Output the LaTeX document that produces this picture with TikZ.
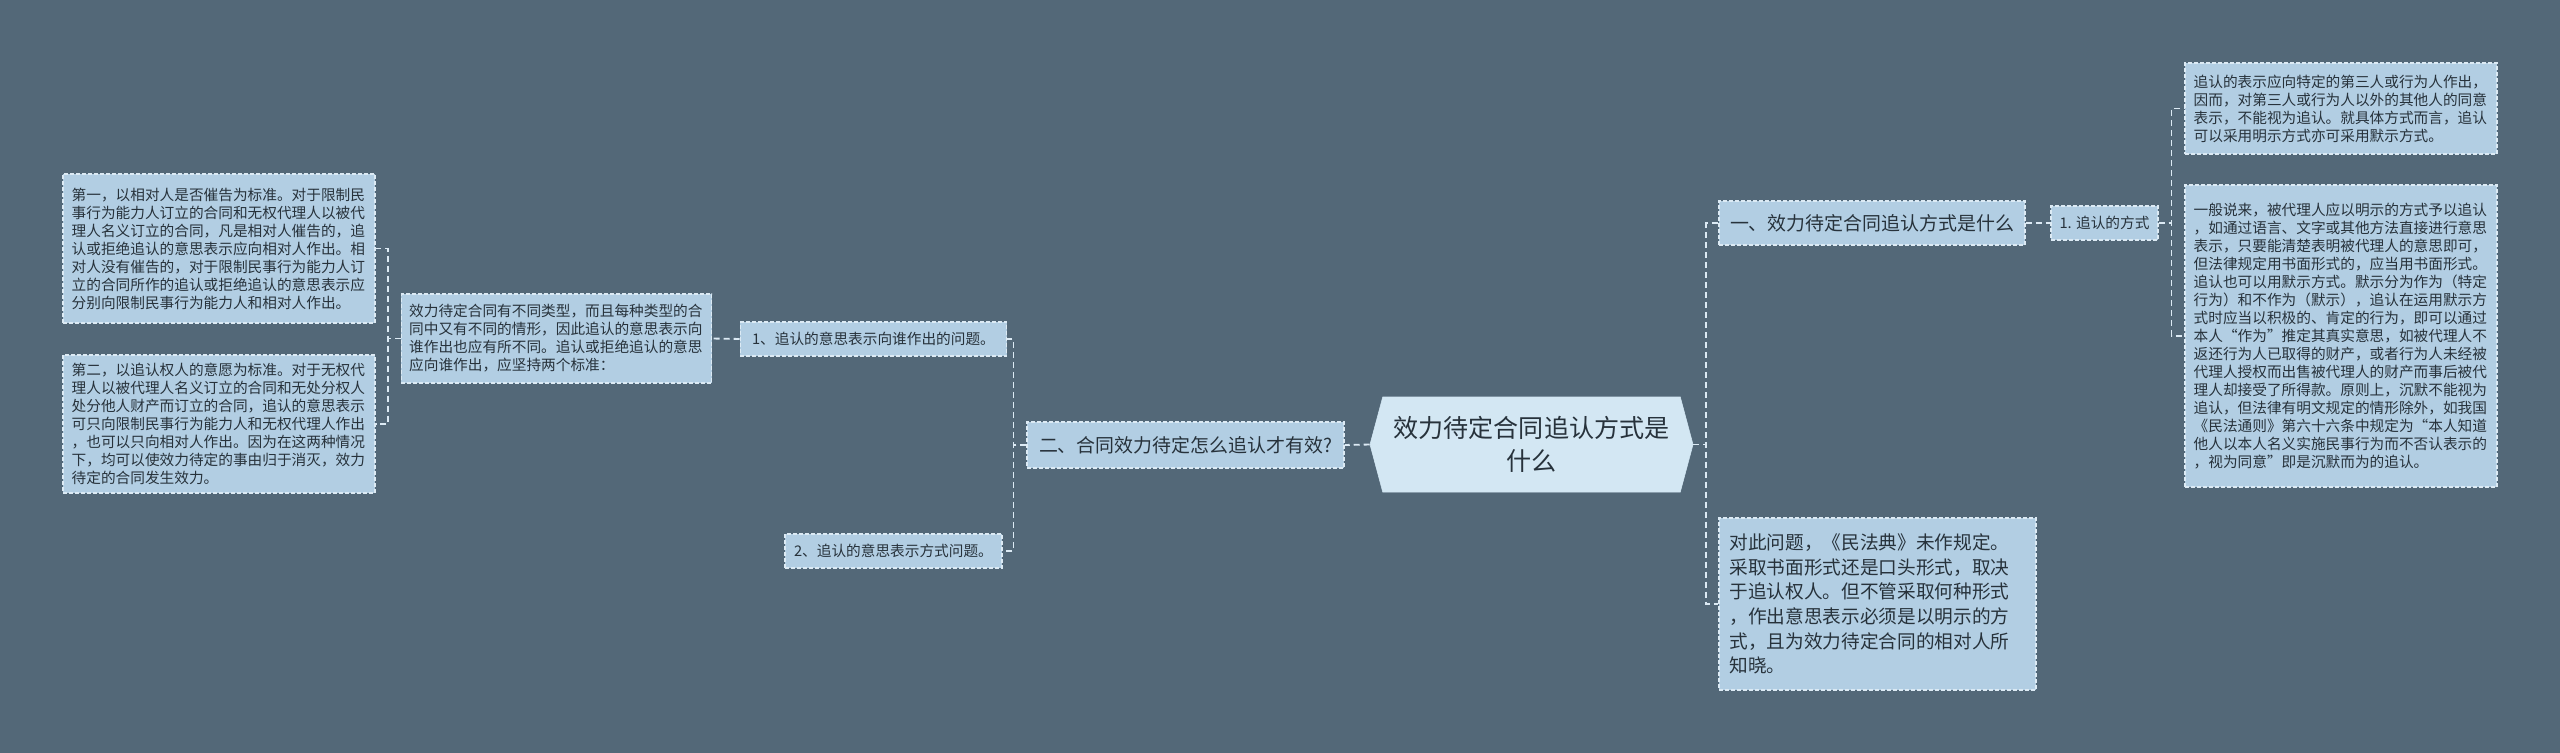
\documentclass[tikz,border=0pt]{standalone}
\usepackage{fontspec}
\setmainfont{Noto Sans CJK SC}
\usetikzlibrary{shapes.symbols}
\definecolor{bgclr}{HTML}{536878}
\definecolor{boxclr}{HTML}{B2CEE3}
\definecolor{rootclr}{HTML}{D3E7F3}
\definecolor{lineclr}{HTML}{DCEAF4}
\definecolor{txtclr}{HTML}{27323B}
\tikzstyle{box}=[draw=lineclr, fill=boxclr, dash pattern=on 3pt off 1.5pt, line width=0.8pt, text=txtclr, align=left, inner sep=0pt]
\tikzstyle{small}=[box, font=\fontsize{11}{13.5}\selectfont]
\tikzstyle{mid}=[box, font=\fontsize{14.2}{18}\selectfont]
\tikzstyle{big}=[box, font=\fontsize{14}{18.5}\selectfont]
\tikzstyle{root}=[signal, signal to=west and east, signal pointer angle=150, fill=rootclr, draw=rootclr, text=txtclr, align=center, inner sep=0pt, font=\fontsize{18.8}{24.7}\selectfont]
\tikzstyle{edge}=[draw=lineclr, line width=1.4pt, dash pattern=on 4.5pt off 3pt]

\begin{document}
\begin{tikzpicture}[x=0.75pt, y=-0.75pt]
            \fill[bgclr] (0,0) rectangle (2560,753);
            \node[root, minimum width=242.25pt, minimum height=71.25pt] (root) at (1531.5,444.5) {效力待定合同追认方式是\\什么};
            \node[mid, minimum width=237.75pt, minimum height=34.5pt, align=center] (q2) at (1185.5,445) {二、合同效力待定怎么追认才有效?};
            \node[small, minimum width=200pt, minimum height=25.5pt, align=center] (n1) at (873.5,339) {1、追认的意思表示向谁作出的问题。};
            \node[small, minimum width=162.75pt, minimum height=25.5pt, align=center] (n2) at (893.5,551) {2、追认的意思表示方式问题。};
            \node[small, text width=221pt, minimum width=233pt, minimum height=66.75pt] (t1) at (556.5,338.5) {效力待定合同有不同类型，而且每种类型的合\\同中又有不同的情形，因此追认的意思表示向\\谁作出也应有所不同。追认或拒绝追认的意思\\应向谁作出，应坚持两个标准：};
            \node[small, text width=221pt, minimum width=234pt, minimum height=111.75pt] (l1) at (219,248.5) {第一，以相对人是否催告为标准。对于限制民\\事行为能力人订立的合同和无权代理人以被代\\理人名义订立的合同，凡是相对人催告的，追\\认或拒绝追认的意思表示应向相对人作出。相\\对人没有催告的，对于限制民事行为能力人订\\立的合同所作的追认或拒绝追认的意思表示应\\分别向限制民事行为能力人和相对人作出。};
            \node[small, text width=221pt, minimum width=234pt, minimum height=103.5pt] (l2) at (219,424) {第二，以追认权人的意愿为标准。对于无权代\\理人以被代理人名义订立的合同和无处分权人\\处分他人财产而订立的合同，追认的意思表示\\可只向限制民事行为能力人和无权代理人作出\\，也可以只向相对人作出。因为在这两种情况\\下，均可以使效力待定的事由归于消灭，效力\\待定的合同发生效力。};
            \node[mid, minimum width=229.5pt, minimum height=33pt, align=center] (r1) at (1872,223) {一、效力待定合同追认方式是什么};
            \node[small, minimum width=80.25pt, minimum height=25.5pt, align=center] (m1) at (2104.5,223) {1. 追认的方式};
            \node[small, text width=221pt, minimum width=234pt, minimum height=68.25pt] (e1) at (2341,108.5) {追认的表示应向特定的第三人或行为人作出，\\因而，对第三人或行为人以外的其他人的同意\\表示，不能视为追认。就具体方式而言，追认\\可以采用明示方式亦可采用默示方式。};
            \node[small, text width=221pt, minimum width=234pt, minimum height=226.5pt] (e2) at (2341,336) {一般说来，被代理人应以明示的方式予以追认\\，如通过语言、文字或其他方法直接进行意思\\表示，只要能清楚表明被代理人的意思即可，\\但法律规定用书面形式的，应当用书面形式。\\追认也可以用默示方式。默示分为作为（特定\\行为）和不作为（默示），追认在运用默示方\\式时应当以积极的、肯定的行为，即可以通过\\本人“作为”推定其真实意思，如被代理人不\\返还行为人已取得的财产，或者行为人未经被\\代理人授权而出售被代理人的财产而事后被代\\理人却接受了所得款。原则上，沉默不能视为\\追认，但法律有明文规定的情形除外，如我国\\《民法通则》第六十六条中规定为“本人知道\\他人以本人名义实施民事行为而不否认表示的\\，视为同意”即是沉默而为的追认。};
            \node[big, text width=222pt, minimum width=237.75pt, minimum height=129pt] (r3) at (1877.5,604) {对此问题，《民法典》未作规定。\\采取书面形式还是口头形式，取决\\于追认权人。但不管采取何种形式\\，作出意思表示必须是以明示的方\\式，且为效力待定合同的相对人所\\知晓。};
            \draw[edge] (root.west) -- (q2.east);
            \draw[edge] (q2.west) -- ++(-13,0) |- (n1.east);
            \draw[edge] (q2.west) -- ++(-13,0) |- (n2.east);
            \draw[edge] (n1.west) -- (t1.east);
            \draw[edge] (t1.west) -- ++(-13,0) |- (l1.east);
            \draw[edge] (t1.west) -- ++(-13,0) |- (l2.east);
            \draw[edge] (root.east) -- ++(13,0) |- (r1.west);
            \draw[edge] (root.east) -- ++(13,0) |- (r3.west);
            \draw[edge] (r1.east) -- (m1.west);
            \draw[edge] (m1.east) -- ++(13,0) |- (e1.west);
            \draw[edge] (m1.east) -- ++(13,0) |- (e2.west);
        \end{tikzpicture}
\end{document}
